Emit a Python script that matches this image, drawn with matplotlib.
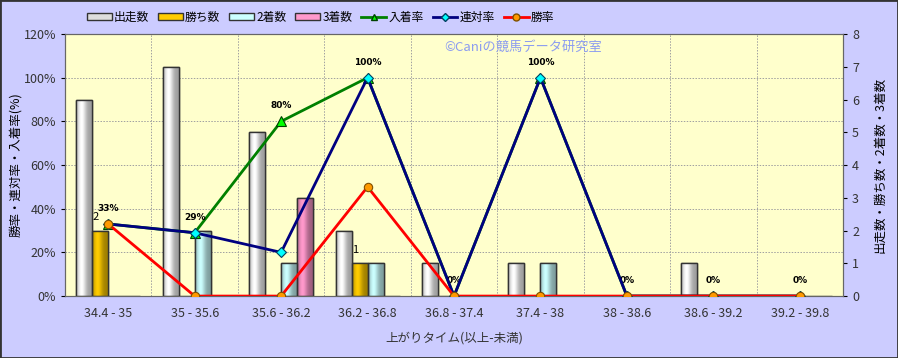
import matplotlib.pyplot as plt
import matplotlib.colors as mcolors
import numpy as np
from matplotlib.patches import Rectangle
from matplotlib.lines import Line2D

plt.rcParams['font.family'] = ['Noto Sans CJK JP', 'DejaVu Sans']

categories = ["34.4 - 35", "35 - 35.6", "35.6 - 36.2", "36.2 - 36.8", "36.8 - 37.4",
              "37.4 - 38", "38 - 38.6", "38.6 - 39.2", "39.2 - 39.8"]
runs = [6, 7, 5, 2, 1, 1, 0, 1, 0]
wins = [2, 0, 0, 1, 0, 0, 0, 0, 0]
seconds = [0, 2, 1, 1, 0, 1, 0, 0, 0]
thirds = [0, 0, 3, 0, 0, 0, 0, 0, 0]
place_rate = [33, 29, 80, 100, 0, 100, 0, 0, 0]
quinella_rate = [33, 29, 20, 100, 0, 100, 0, 0, 0]
win_rate = [33, 0, 0, 50, 0, 0, 0, 0, 0]

bg = "#ccccff"
fig = plt.figure(figsize=(8.98, 3.58), dpi=100, facecolor=bg)
ax = fig.add_axes([0.0724, 0.173, 0.8664, 0.732])  # counts axis (drawn below)
ax.set_facecolor("#ffffcc")
ax2 = ax.twinx()  # percent axis (drawn on top)
ax2.patch.set_visible(False)

x = np.arange(len(categories))
w = 0.185
ax.set_xlim(-0.5, len(categories) - 0.5)
ax.set_ylim(0, 8)
ax2.set_ylim(0, 120)

# grid
for p in range(20, 120, 20):
    ax.axhline(p / 120 * 8, color="#a0a0a0", lw=0.7, ls=(0, (1.5, 1.5)), zorder=0)
for i in range(1, len(categories)):
    ax.axvline(i - 0.5, color="#a0a0a0", lw=0.7, ls=(0, (1.5, 1.5)), zorder=0)


def shade(color, profile):
    c = np.array(mcolors.to_rgb(color))
    return np.clip(c[None, :] * profile[:, None], 0, 1)


def gradient_bars(xs, heights, color, label):
    bars = ax.bar(xs, heights, w, color=color, edgecolor="#333333", lw=1.0,
                  zorder=2, label=label)
    t = np.linspace(0, 1, 40)
    profile = 0.62 + 0.38 * np.exp(-((t - 0.35) / 0.3) ** 2)
    img = shade(color, profile)[None, :, :]
    for b in bars:
        if b.get_height() <= 0:
            continue
        x0, y0 = b.get_x(), b.get_y()
        im = ax.imshow(img, extent=[x0, x0 + b.get_width(), y0, y0 + b.get_height()],
                       aspect="auto", zorder=2.5, interpolation="bilinear")
        im.set_clip_path(b)
        edge = Rectangle((x0, y0), b.get_width(), b.get_height(), fill=False,
                         edgecolor="#333333", lw=1.0, zorder=3)
        ax.add_patch(edge)
    return bars


gradient_bars(x - 1.5 * w, runs, "#ffffff", "出走数")
gradient_bars(x - 0.5 * w, wins, "#ffcc00", "勝ち数")
gradient_bars(x + 0.5 * w, seconds, "#ccffff", "2着数")
gradient_bars(x + 1.5 * w, thirds, "#ff99cc", "3着数")
ax.set_xlim(-0.5, len(categories) - 0.5)
ax.set_ylim(0, 8)

for xi, v in zip(x, wins):
    if v > 0:
        ax.text(xi - 0.5 * w - 0.05, v + 0.25, str(v), ha="center", va="bottom",
                fontsize=8, color="black", zorder=5)

ax2.plot(x, place_rate, color="#008000", lw=2, marker="^", ms=7,
         mfc="#00ff00", mec="#004000", mew=0.8, label="入着率", zorder=3)
ax2.plot(x, quinella_rate, color="#000080", lw=2, marker="D", ms=5,
         mfc="#00ffff", mec="#004060", mew=0.8, label="連対率", zorder=4)
ax2.plot(x, win_rate, color="#ff0000", lw=2, marker="o", ms=6,
         mfc="#ff9900", mec="#805000", mew=0.8, label="勝率", zorder=5)

for xi, v in zip(x, place_rate):
    ax2.annotate(f"{v}%", (xi, v), xytext=(0, 8), textcoords="offset points",
                 ha="center", va="bottom", fontsize=6.5, fontweight="bold",
                 family="DejaVu Sans", color="black")

ax2.text(0.488, 0.948, "©Caniの競馬データ研究室", transform=ax.transAxes,
         fontsize=9.5, color="#8c9cf0", ha="left", va="center")

# axes styling
ax.set_xticks(x)
ax.set_xticklabels(categories, fontsize=9, color="#333333")
ax.yaxis.tick_right()
ax.yaxis.set_label_position("right")
ax.set_yticks(range(0, 9))
ax.tick_params(axis="y", labelsize=9, labelcolor="#333333", length=3)
ax.tick_params(axis="x", length=0, pad=8)
ax2.yaxis.tick_left()
ax2.yaxis.set_label_position("left")
ax2.set_yticks(range(0, 121, 20))
ax2.set_yticklabels([f"{p}%" for p in range(0, 121, 20)])
ax2.tick_params(axis="y", labelsize=9, labelcolor="#333333", length=3)
for a in (ax, ax2):
    for s in a.spines.values():
        s.set_color("#666666")
        s.set_linewidth(0.8)

ax.set_ylabel("出走数・勝ち数・2着数・3着数", fontsize=9, labelpad=10)
ax2.set_ylabel("勝率・連対率・入着率(%)", fontsize=9, labelpad=1)
ax.set_xlabel("上がりタイム(以上-未満)", fontsize=9, color="#333333", labelpad=8)

handles = [
    Rectangle((0, 0), 1, 1, facecolor="#dddddd", edgecolor="#333333"),
    Rectangle((0, 0), 1, 1, facecolor="#ffcc00", edgecolor="#333333"),
    Rectangle((0, 0), 1, 1, facecolor="#ccffff", edgecolor="#333333"),
    Rectangle((0, 0), 1, 1, facecolor="#ff99cc", edgecolor="#333333"),
    Line2D([], [], color="#008000", lw=2, marker="^", ms=5, mfc="#00ff00", mec="#004000"),
    Line2D([], [], color="#000080", lw=2, marker="D", ms=4, mfc="#00ffff", mec="#004060"),
    Line2D([], [], color="#ff0000", lw=2, marker="o", ms=5, mfc="#ff9900", mec="#805000"),
]
labels = ["出走数", "勝ち数", "2着数", "3着数", "入着率", "連対率", "勝率"]
fig.legend(handles, labels, loc="center left", bbox_to_anchor=(0.09, 0.952),
           ncol=7, frameon=False, fontsize=8.5, handlelength=2.1, handleheight=0.5,
           handletextpad=0.2, columnspacing=0.75, borderpad=0)

border = Rectangle((0, 0), 1, 1, transform=fig.transFigure, fill=False,
                   edgecolor="#333333", lw=2)
fig.patches.append(border)

fig.savefig("out.png", dpi=100, facecolor=bg)
